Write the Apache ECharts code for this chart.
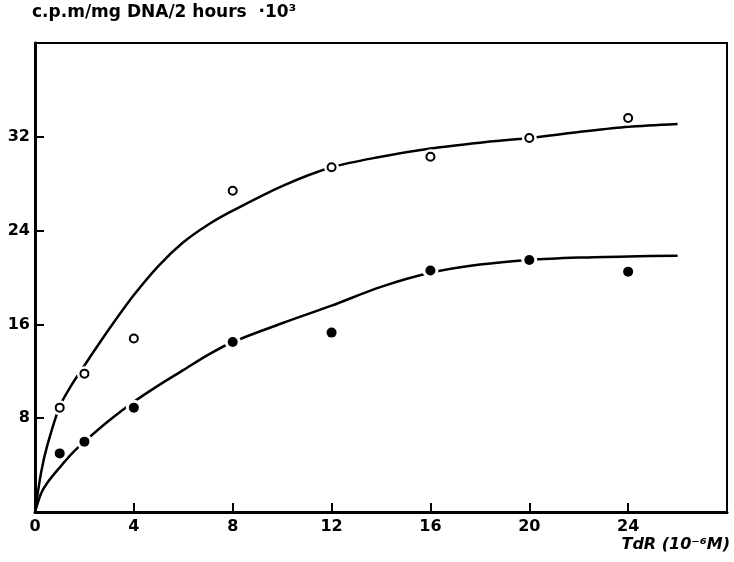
<!DOCTYPE html>
<html>
<head>
<meta charset="utf-8">
<script src="https://cdn.jsdelivr.net/npm/echarts@6/dist/echarts.min.js"></script>
<style>
  html, body { margin: 0; padding: 0; background: #fff; }
  #chart { width: 734px; height: 562px; }
</style>
</head>
<body>
<div id="chart"></div>
<script>
// measured points (TdR concentration vs c.p.m/mg DNA/2 h, x10^3)
const doses = [1, 2, 4, 8, 12, 16, 20, 24];
const openPts = [8.9, 11.8, 14.8, 27.4, 29.4, 30.3, 31.9, 33.6];
const filledPts = [5.0, 6.0, 8.9, 14.5, 15.3, 20.6, 21.5, 20.5];

// hand-drawn fitted curves
const curveX = [0, 0.25, 0.5, 1, 1.5, 2, 3, 4, 5, 6, 7, 8, 10, 12, 14, 16, 18, 20, 22, 24, 26];
const upperCurve = [0, 3.4, 5.7, 9.0, 10.9, 12.5, 15.6, 18.5, 21.0, 23.0, 24.5, 25.7, 27.8, 29.4, 30.3, 31.0, 31.5, 31.9, 32.4, 32.85, 33.1];
const lowerCurve = [0, 1.6, 2.5, 3.8, 5.0, 6.0, 7.8, 9.4, 10.8, 12.1, 13.4, 14.5, 16.1, 17.6, 19.2, 20.4, 21.1, 21.5, 21.7, 21.8, 21.85];

const pairs = (xs, ys) => xs.map((x, i) => [x, ys[i]]);

const chart = echarts.init(document.getElementById('chart'));

const font = 'DejaVu Sans';

chart.setOption({
  animation: false,
  backgroundColor: '#fff',
  grid: {
    left: 35, right: 7, top: 43, bottom: 50,
    show: true, borderColor: '#000', borderWidth: 2
  },
  graphic: [
    {
      type: 'text', left: 32, top: 4,
      style: {
        text: 'c.p.m/mg DNA/2 hours  ·10³',
        font: 'bold 17px ' + font, fill: '#000'
      }
    },
    {
      type: 'text', right: 4, top: 537,
      style: {
        text: 'TdR (10⁻⁶M)',
        font: 'bold italic 16px ' + font, fill: '#000'
      }
    }
  ],
  xAxis: {
    type: 'value', min: 0, max: 28, interval: 4,
    axisLine: { lineStyle: { color: '#000', width: 3 } },
    axisTick: { inside: true, length: 9, lineStyle: { color: '#000', width: 2 } },
    axisLabel: {
      color: '#000', fontFamily: font, fontWeight: 'bold', fontSize: 16, margin: 7,
      showMaxLabel: false
    },
    splitLine: { show: false }
  },
  yAxis: {
    type: 'value', min: 0, max: 40, interval: 8,
    axisLine: { show: true, lineStyle: { color: '#000', width: 3 } },
    axisTick: { show: true, inside: true, length: 9, lineStyle: { color: '#000', width: 2 } },
    axisLabel: {
      color: '#000', fontFamily: font, fontWeight: 'bold', fontSize: 16, margin: 5,
      formatter: v => (v === 0 || v === 40) ? '' : String(v)
    },
    splitLine: { show: false }
  },
  series: [
    {
      type: 'line', data: pairs(curveX, upperCurve), smooth: 0.3,
      showSymbol: false, lineStyle: { color: '#000', width: 2.5 }, z: 2
    },
    {
      type: 'line', data: pairs(curveX, lowerCurve), smooth: 0.3,
      showSymbol: false, lineStyle: { color: '#000', width: 2.5 }, z: 2
    },
    // white halo so the curves break around the points
    {
      type: 'scatter', data: pairs(doses, openPts), symbolSize: 15,
      itemStyle: { color: '#fff', opacity: 1 }, z: 3, silent: true
    },
    {
      type: 'scatter', data: pairs(doses, filledPts), symbolSize: 16,
      itemStyle: { color: '#fff', opacity: 1 }, z: 3, silent: true
    },
    {
      type: 'scatter', data: pairs(doses, openPts), symbolSize: 8,
      itemStyle: { color: '#fff', borderColor: '#000', borderWidth: 2, opacity: 1 }, z: 4
    },
    {
      type: 'scatter', data: pairs(doses, filledPts), symbolSize: 10,
      itemStyle: { color: '#000', opacity: 1 }, z: 4
    }
  ]
});
</script>
</body>
</html>
